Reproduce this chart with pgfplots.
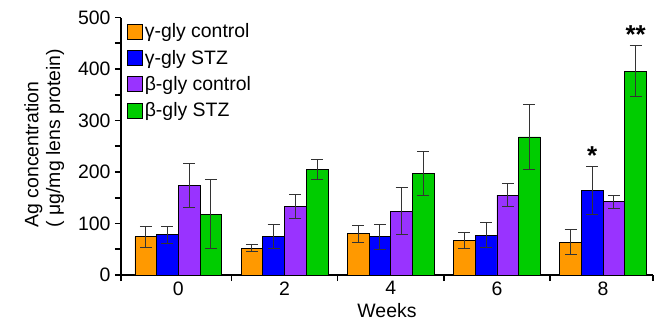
\documentclass[border=0pt]{standalone}
\usepackage{fontspec}
\setmainfont{Liberation Sans}
\usepackage{pgfplots}
\pgfplotsset{compat=1.18}
\definecolor{cor}{RGB}{255,153,0}
\definecolor{cbl}{RGB}{0,0,255}
\definecolor{cpu}{RGB}{153,51,255}
\definecolor{cgr}{RGB}{0,204,0}
\begin{document}
\begin{tikzpicture}
\begin{axis}[
  scale only axis, width=532bp, height=257.5bp,
  xmin=-0.54, xmax=4.47, ymin=0, ymax=500,
  axis lines=left, axis line style={-, line width=1.6pt},
  ybar=0pt, bar width=21.7bp,
  tick align=outside,
  ytick={0,100,...,500}, minor ytick={50,150,...,450},
  major tick length=6bp, minor tick length=6bp,
  tick style={line width=1.6pt, black},
  xtick={-0.54,0.5,1.5,2.5,3.5,4.47}, xticklabels={},
  extra x ticks={0,1,2,3,4}, extra x tick labels={0,2,4,6,8},
  extra x tick style={major tick length=0pt, tick style={draw=none}},
  /pgf/number format/assume math mode=true,
  tick label style={font=\fontsize{19.5}{22}\selectfont},
  yticklabel style={xshift=-1bp},
  xticklabel style={yshift=-3bp},
  xlabel={Weeks}, ylabel={Ag concentration\\( μg/mg lens protein)},
  label style={font=\fontsize{19.5}{22}\selectfont},
  ylabel style={align=left, at={(axis description cs:-0.1,0.532)}, anchor=south},
  xlabel style={at={(axis description cs:0.5,0)}, anchor=north, yshift=-25bp},
  error bars/error bar style={line width=1pt, black!80},
  error bars/error mark options={rotate=90, mark size=6bp, line width=1pt, black!80},
  legend style={at={(axis cs:-0.485,492)}, anchor=north west, draw=none, fill=none,
    font=\fontsize{19.5}{22}\selectfont, row sep=6.8bp, inner sep=0pt,
    /tikz/every even column/.append style={column sep=7bp}},
  legend cell align=left,
  legend image code/.code={\draw[#1, draw=black, line width=0.8pt] (0bp,-7.5bp) rectangle (15bp,7.5bp);},
]
\addplot[fill=cor, draw=black, line width=0.8pt, error bars/.cd, y dir=both, y explicit]
 coordinates {(0,74) +- (0,21) (1,52) +- (0,7) (2,80) +- (0,16) (3,67) +- (0,15) (4,64) +- (0,24)};
\addplot[fill=cbl, draw=black, line width=0.8pt, error bars/.cd, y dir=both, y explicit]
 coordinates {(0,78) +- (0,16) (1,75) +- (0,24) (2,74) +- (0,25) (3,77) +- (0,24) (4,164) +- (0,46)};
\addplot[fill=cpu, draw=black, line width=0.8pt, error bars/.cd, y dir=both, y explicit]
 coordinates {(0,174) +- (0,43) (1,133) +- (0,24) (2,124) +- (0,45) (3,155) +- (0,22) (4,142) +- (0,13)};
\addplot[fill=cgr, draw=black, line width=0.8pt, error bars/.cd, y dir=both, y explicit]
 coordinates {(0,118) +- (0,67) (1,205) +- (0,20) (2,197) +- (0,42) (3,268) +- (0,64) (4,396) +- (0,49)};
\legend{γ-gly control, γ-gly STZ, β-gly control, β-gly STZ}
\node[font=\fontsize{26}{26}\selectfont\bfseries, anchor=center] at (axis cs:3.898,232) {*};
\node[font=\fontsize{26}{26}\selectfont\bfseries, anchor=center] at (axis cs:4.306,467) {**};
\end{axis}
\path (current axis.south west) ++(-121bp,-47bp) coordinate (bl);
\path (current axis.north east) ++(4bp,17.5bp) coordinate (tr);
\path (bl) rectangle (tr);
\end{tikzpicture}
\end{document}
